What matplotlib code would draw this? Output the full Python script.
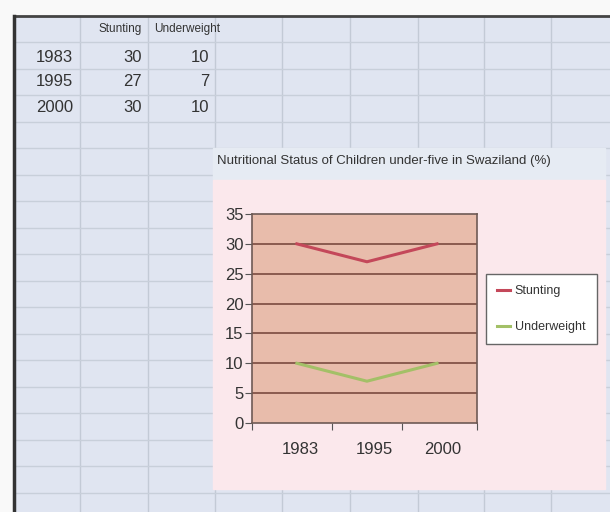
import matplotlib.pyplot as plt
from matplotlib.patches import Rectangle
from matplotlib import font_manager

years = ["1983", "1995", "2000"]
stunting = [30, 27, 30]
underweight = [10, 7, 10]
series_names = ["Stunting", "Underweight"]
title = "Nutritional Status of Children under-five in Swaziland (%)"
y_ticks = [0, 5, 10, 15, 20, 25, 30, 35]

W, H = 610, 512

names = {f.name for f in font_manager.fontManager.ttflist}
narrow = "Liberation Sans Narrow" if "Liberation Sans Narrow" in names else "Liberation Sans"
regular = "Liberation Sans"


def px(x, y):
    # pixel coords (top-left origin) -> figure fraction
    return x / W, 1 - y / H


def main():
    fig = plt.figure(figsize=(W / 100, H / 100), dpi=100)
    fig.patch.set_facecolor("#f9f9f9")

    bg = fig.add_axes([0, 0, 1, 1])
    bg.set_xlim(0, W)
    bg.set_ylim(H, 0)
    bg.axis("off")

    # spreadsheet cells
    bg.add_patch(Rectangle((14, 16), W - 14, H - 16, color="#e0e5f1", zorder=0))
    for x in [80, 148, 215, 282, 350, 418, 484, 551]:
        bg.plot([x, x], [16, H], color="#c3cad6", lw=1.0, zorder=1)
    y = 42.0
    while y < H:
        bg.plot([14, W], [y, y], color="#c8cfda", lw=1.0, zorder=1)
        y += 26.5
    bg.plot([14, W], [16, 16], color="#444444", lw=2, zorder=2)
    bg.plot([14, 14], [16, H], color="#333333", lw=2.5, zorder=2)

    # data table
    bg.text(120, 29, series_names[0], fontsize=8.5, family=narrow, ha="center", va="center", color="#333333")
    bg.text(187, 29, series_names[1], fontsize=8.5, family=narrow, ha="center", va="center", color="#333333")
    for i, yr in enumerate(years):
        ty = 57 + i * 25
        bg.text(73, ty, yr, fontsize=12, family=regular, ha="right", va="center", color="#333333")
        bg.text(142, ty, str(stunting[i]), fontsize=12, family=regular, ha="right", va="center", color="#333333")
        bg.text(209, ty, str(underweight[i]), fontsize=12, family=regular, ha="right", va="center", color="#333333")

    # chart object
    bg.add_patch(Rectangle((213, 148), 392, 32, color="#e6ebf3", zorder=3))
    bg.add_patch(Rectangle((213, 180), 392, 309, color="#fbe8ec", zorder=3))
    bg.text(217, 161, title, fontsize=9.5, family=narrow, ha="left", va="center", color="#333333", zorder=4)

    l, b = px(252, 423)
    r, t = px(477, 214)
    ax = fig.add_axes([l, b, r - l, t - b])
    ax.set_facecolor("#e8bcab")
    xs = range(len(years))
    ax.plot(xs, stunting, color="#c4485a", lw=2.2, label=series_names[0], zorder=3)
    ax.plot(xs, underweight, color="#a3c067", lw=2.2, label=series_names[1], zorder=3)

    ax.set_xlim(-0.64, 2.57)
    ax.set_ylim(0, 35)
    ax.set_yticks(y_ticks)
    ax.set_yticklabels([str(v) for v in y_ticks], fontsize=12, family=regular, color="#333333")
    for v in y_ticks[1:-1]:
        ax.axhline(v, color="#7a4a40", lw=1.2, zorder=2)

    ax.set_xticks([-0.64, 0.5, 1.5, 2.57])
    ax.set_xticklabels([])
    ax.set_xticks([0.05, 1.1, 2.08], minor=True)
    ax.set_xticklabels(years, minor=True, fontsize=12, family=regular, color="#333333")
    ax.tick_params(axis="x", which="minor", length=0, pad=14)
    ax.tick_params(axis="x", which="major", length=5, color="#555555", direction="out")
    ax.tick_params(axis="y", length=5, color="#555555", direction="out", pad=1)
    for s in ax.spines.values():
        s.set_color("#6e5a55")
        s.set_linewidth(1.2)

    leg = ax.legend(loc="center left", bbox_to_anchor=px(486, 309), bbox_transform=fig.transFigure,
                    prop={"family": narrow, "size": 9}, handlelength=1.0, handletextpad=0.4,
                    labelspacing=1.9, borderpad=0.9, borderaxespad=0, fancybox=False, framealpha=1)
    leg.get_frame().set_edgecolor("#666666")
    leg.get_frame().set_linewidth(1.0)
    for text in leg.get_texts():
        text.set_color("#333333")

    plt.savefig("out.png", dpi=100, facecolor=fig.get_facecolor())


if __name__ == "__main__":
    main()
